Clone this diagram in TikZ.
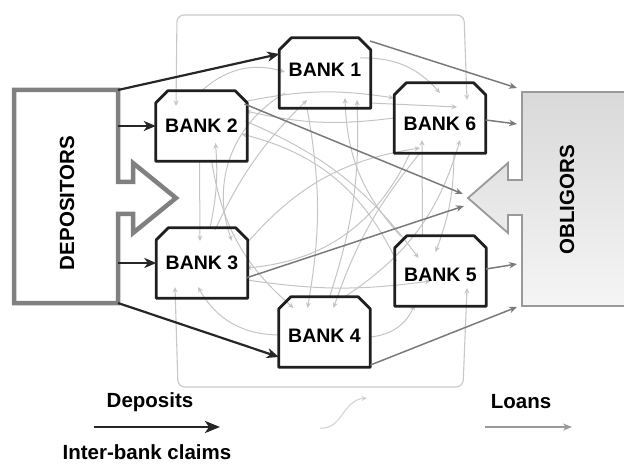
\documentclass[tikz,border=0pt]{standalone}
\usepackage{fontspec}
\setmainfont{Liberation Sans}
\usetikzlibrary{arrows.meta,calc}

% outline of a bank: a box whose two upper corners are cut off
\newcommand\chamferpath[2]{%
  \path[#2] (#1.south west) -- ([yshift=-12pt]#1.north west)
    -- ([xshift=12pt]#1.north west) -- ([xshift=-12pt]#1.north east)
    -- ([yshift=-12pt]#1.north east) -- (#1.south east) -- cycle;}

\begin{document}
\begin{tikzpicture}[x=1pt,y=-1pt,
  bankbox/.style={rectangle,draw=none,inner sep=0pt,minimum width=91pt,minimum height=70pt},
  banktext/.style={font=\fontsize{19.5}{20}\selectfont\bfseries,inner sep=0pt},
  bigtext/.style={font=\fontsize{20.5}{21}\selectfont\bfseries,inner sep=0pt,rotate=90},
  legtext/.style={font=\fontsize{20.5}{21}\selectfont\bfseries,inner sep=0pt},
  bankline/.style={draw=black!88,line width=2.8pt,line join=round},
  deposit/.style={draw=black!85,line width=2.2pt,-{Stealth[length=12pt,width=10pt,inset=3.5pt]}},
  loan/.style={draw=black!52,line width=1.5pt,-{Stealth[length=8pt,width=6.5pt]}},
  claim/.style={draw=black!23,line width=1pt,-{Stealth[length=5.5pt,width=5pt]}},
  frameline/.style={draw=black!22,line width=1.1pt,rounded corners=7pt}]

\useasboundingbox (0,0) rectangle (624,465);
\clip (0,0) rectangle (624,465);

% depositors: block with an arrow pointing into the banking system
\path[draw=black!50,line width=4.5pt,line join=miter,fill=white]
  (14,90) -- (118,90) -- (118,182) -- (133,182) -- (133,163) -- (176,198)
  -- (133,233) -- (133,214) -- (118,214) -- (118,303) -- (14,303) -- cycle;
\coordinate (dep-ne) at (118,90);
\coordinate (dep-a)  at (118,126);
\coordinate (dep-b)  at (118,263);
\coordinate (dep-se) at (118,303);

% obligors: shaded block with an arrow receiving the loans
\path[draw=black!40,line width=1.8pt,top color=black!15,bottom color=black!4]
  (640,92) -- (522,92) -- (522,180) -- (508,180) -- (508,163) -- (468,198)
  -- (508,233) -- (508,215) -- (522,215) -- (522,306) -- (640,306);
\coordinate (obl-tip) at (468,198);
\coordinate (ln1) at (517,88);
\coordinate (ln6) at (517,124);
\coordinate (ln5) at (517,264);
\coordinate (ln4) at (517,307);
\coordinate (tipA) at (463,194);
\coordinate (tipB) at (464,206);

% banks
\node[bankbox] (b1) at (325,73) {};
\node[bankbox] (b2) at (201.5,126) {};
\node[bankbox] (b6) at (440,118) {};
\node[bankbox] (b3) at (202,263) {};
\node[bankbox] (b4) at (324.5,332) {};
\node[bankbox] (b5) at (440.5,271) {};
\foreach \b in {b1,b2,b3,b4,b5,b6}{\chamferpath{\b}{fill=white}}

% inter-bank claims
\draw[frameline,{Stealth[length=5.5pt,width=5pt]}-{Stealth[length=5.5pt,width=5pt]}]
  ([shift={(-25.5,-20)}]b2.center) -- (177,15) -- (464,15) -- ([shift={(27,-18)}]b6.center);
\draw[frameline,{Stealth[length=5.5pt,width=5pt]}-{Stealth[length=5.5pt,width=5pt]}]
  ([shift={(-27,24)}]b3.center) -- (178,387) -- (463,387) -- ([shift={(26.5,17)}]b5.center);
\draw[claim] ([shift={(35,-15)}]b1.center) to[bend left=25] ([shift={(0,-25)}]b6.center);
\draw[claim] ([shift={(45,30)}]b1.center) -- ([shift={(17,-11)}]b6.center);
\draw[claim] ([shift={(-1,-34)}]b2.center) to[bend left=30] ([shift={(-40,-1)}]b1.center);
\draw[claim] ([shift={(44,-5)}]b2.center) to[bend left=15] ([shift={(-22,-13)}]b5.center);
\draw[claim] ([shift={(10,34)}]b2.center) to[bend right=20] ([shift={(-31,-24)}]b4.center);
\draw[claim] ([shift={(13,-33)}]b3.center) to[bend left=10] ([shift={(-18,27)}]b1.center);
\draw[claim] ([shift={(5,-35)}]b4.center) to[bend right=10] ([shift={(32,27)}]b1.center);
\draw[claim] ([shift={(45,-20)}]b3.center) to[bend left=20] ([shift={(-20,30)}]b6.center);
\draw[claim] ([shift={(-45,3)}]b4.center) to[bend left=30] ([shift={(-4,24)}]b3.center);
\draw[claim] ([shift={(46,5)}]b4.center) to[bend right=30] ([shift={(-26,34)}]b5.center);
\draw[claim] ([shift={(-20,35)}]b6.center) to[bend right=10] ([shift={(9,-24)}]b4.center);
\draw[claim] ([shift={(-18,35)}]b1.center) to[bend left=10] ([shift={(-17,-24)}]b4.center);
\draw[claim] ([shift={(-44,-10)}]b5.center) to[bend right=25] ([shift={(40,8)}]b2.center);
\draw[claim] ([shift={(-46,0)}]b6.center) to[bend left=10] ([shift={(44,-15)}]b2.center);
\draw[claim] ([shift={(-18,-35)}]b5.center) -- ([shift={(-18,22)}]b6.center);
\draw[claim] ([shift={(14,35)}]b6.center) to[bend left=10] ([shift={(-5,-19)}]b5.center);
\draw[claim] ([shift={(45,17)}]b3.center) to[bend right=8] ([shift={(-10,10)}]b5.center);
\draw[claim] ([shift={(-2,35)}]b2.center) -- ([shift={(-2,-22)}]b3.center);
\draw[claim] ([shift={(8,-35)}]b3.center) to[bend right=8] ([shift={(14,17)}]b2.center);
\draw[claim] ([shift={(-40,20)}]b1.center) to[bend right=40] ([shift={(30,-22)}]b3.center);
\draw[claim] ([shift={(-30,35)}]b6.center) to[bend left=30] ([shift={(44,5)}]b3.center);
\draw[claim] ([shift={(-40,-35)}]b5.center) to[bend left=20] ([shift={(20,25)}]b1.center);
\draw[claim] ([shift={(20,-35)}]b4.center) to[bend right=20] ([shift={(20,22)}]b6.center);
\draw[claim] ([shift={(46,-25)}]b2.center) to[bend left=10] ([shift={(-46,-20)}]b6.center);

\foreach \b in {b1,b2,b3,b4,b5,b6}{\chamferpath{\b}{bankline}}

% loans to the obligors
\draw[loan] ([shift={(45,-32)}]b1.center) -- (ln1);
\draw[loan] ([yshift=-2pt]b6.east) -- (ln6);
\draw[loan] ([shift={(43,-22)}]b2.center) -- (tipA);
\draw[loan] ([shift={(44,15)}]b3.center) -- (tipB);
\draw[loan] ([yshift=2pt]b5.east) -- (ln5);
\draw[loan] ([shift={(46,33)}]b4.center) -- (ln4);

% deposits into the banks
\draw[deposit] (dep-ne) -- ([yshift=19pt]b1.west);
\draw[deposit] (dep-a) -- (b2.west);
\draw[deposit] (dep-b) -- (b3.west);
\draw[deposit] (dep-se) -- ([yshift=-25pt]b4.west);

% labels
\node[banktext] (t1) at ([yshift=3pt]b1.center) {BANK 1};
\node[banktext] (t2) at (b2.center) {BANK 2};
\node[banktext] (t6) at ([yshift=-6pt]b6.center) {BANK 6};
\node[banktext] (t3) at (b3.center) {BANK 3};
\node[banktext] (t4) at ([yshift=-4pt]b4.center) {BANK 4};
\node[banktext] (t5) at ([yshift=-4pt]b5.center) {BANK 5};
\node[bigtext] (deptxt) at (67,203) {DEPOSITORS};
\node[bigtext] (obltxt) at (567,200) {OBLIGORS};

% legend
\node[legtext] (legdep) at (150,402) {Deposits};
\node[legtext] (legclaim) at (147,452) {Inter-bank claims};
\node[legtext] (legloan) at (521,402) {Loans};
\coordinate (ld-a) at (94,427);
\coordinate (ld-b) at (220,427);
\coordinate (ll-a) at (485,427);
\coordinate (ll-b) at (572,427);
\coordinate (lc-a) at (320,428);
\coordinate (lc-b) at (367,398);
\draw[draw=black!85,line width=2.8pt,-{Stealth[length=15pt,width=12pt,inset=4pt]}] (ld-a) -- (ld-b);
\draw[draw=black!40,line width=1.5pt,-{Stealth[length=9pt,width=7pt]}] (ll-a) -- (ll-b);
\draw[claim,draw=black!18] (lc-a) .. controls (342,430) and (343,400) .. (lc-b);

\end{tikzpicture}
\end{document}
